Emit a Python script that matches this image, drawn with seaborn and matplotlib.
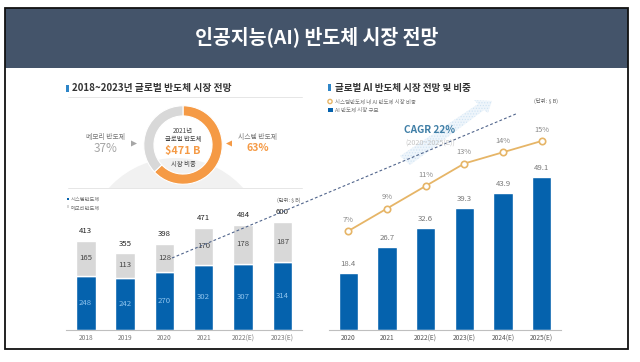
import numpy as np
import pandas as pd
import matplotlib
matplotlib.use("Agg")
import matplotlib.pyplot as plt
from matplotlib.patches import Rectangle, Circle, Polygon
import seaborn as sns

sns.set_theme(style="white")
plt.rcParams['font.family'] = ['Noto Sans CJK KR', 'DejaVu Sans']

title = "인공지능(AI) 반도체 시장 전망"
left_title = "2018~2023년 글로벌 반도체 시장 전망"
right_title = "글로벌 AI 반도체 시장 전망 및 비중"

left_years = ["2018", "2019", "2020", "2021", "2022(E)", "2023(E)"]
system_semi = [248, 242, 270, 302, 307, 314]
memory_semi = [165, 113, 128, 170, 178, 187]
left_total_labels = ["413", "355", "398", "471", "484", "600"]

donut_labels = ["시스템 반도체", "메모리 반도체"]
donut_shares = [63, 37]

right_years = ["2020", "2021", "2022(E)", "2023(E)", "2024(E)", "2025(E)"]
ai_market = [18.4, 26.7, 32.6, 39.3, 43.9, 49.1]
ai_share = [7, 9, 11, 13, 14, 15]

BLUE = "#0562ad"
GREY = "#d8d8d8"
ORANGE = "#f59a45"
TAN = "#e6b567"
W, H = 640, 362

fig = plt.figure(figsize=(W / 100, H / 100), dpi=100, facecolor="white")


def px_axes(x0, y0, x1, y1, **kw):
    return fig.add_axes([x0 / W, 1 - y1 / H, (x1 - x0) / W, (y1 - y0) / H], **kw)


# page layer in pixel coordinates
bg = px_axes(0, 0, W, H, zorder=0)
bg.set_xlim(0, W)
bg.set_ylim(H, 0)
bg.axis("off")
bg.add_patch(Rectangle((5, 7.5), 623, 60, fc="#44546a", ec="none"))
bg.add_patch(Rectangle((5, 7.5), 623, 341.5, fc="none", ec="#111111", lw=1.3))
bg.text(317, 37, title, color="white", fontsize=14, fontweight="bold", ha="center", va="center")

# globe behind the donut
globe = Circle((176, 248), 90, fc="#f1f1f1", ec="none")
bg.add_patch(globe)
globe.set_clip_path(Rectangle((60, 100), 250, 88, transform=bg.transData))
bg.plot([68, 302], [188, 188], color="#e6e6e6", lw=0.7)
bg.plot([68, 302], [97, 97], color="#e6e6e6", lw=0.7)

# section titles
bg.add_patch(Rectangle((66, 85), 2.6, 7, fc="#2f86c8", ec="none"))
bg.text(72, 88.5, left_title, fontsize=7, fontweight="bold", color="#333333", va="center")
bg.add_patch(Rectangle((328, 84), 2.6, 7, fc="#2f86c8", ec="none"))
bg.text(335, 88, right_title, fontsize=6.9, fontweight="bold", color="#333333", va="center")

# donut side labels
bg.text(106, 137, donut_labels[1], fontsize=4.9, color="#777777", ha="center", va="center")
bg.text(106, 148, f"{donut_shares[1]}%", fontsize=8.5, color="#a6a6a6", ha="center", va="center")
bg.add_patch(Polygon([[131, 140.5], [131, 146.5], [137, 143.5]], fc="#a6a6a6", ec="none"))
bg.text(257.5, 137, donut_labels[0], fontsize=4.9, color="#777777", ha="center", va="center")
bg.text(257.5, 148, f"{donut_shares[0]}%", fontsize=7.6, fontweight="bold", color=ORANGE, ha="center", va="center")
bg.add_patch(Polygon([[232, 140.5], [232, 146.5], [226, 143.5]], fc=ORANGE, ec="none"))

# donut
dn = px_axes(141, 103, 225, 187, zorder=1)
dn.pie(donut_shares, colors=[ORANGE, GREY], startangle=90, counterclock=False, radius=1.0,
       wedgeprops=dict(width=0.26, edgecolor="white", linewidth=0.8))
dn.set_xlim(-1.07, 1.07)
dn.set_ylim(-1.07, 1.07)
bg.text(183, 131, "2021년", fontsize=4.6, color="#444444", ha="center", va="center")
bg.text(183, 138.5, "글로벌 반도체", fontsize=4.6, color="#444444", ha="center", va="center")
bg.text(183, 151, "$471 B", fontsize=7.8, fontweight="bold", color=ORANGE, ha="center", va="center")
bg.text(183, 164, "시장 비중", fontsize=4.6, color="#444444", ha="center", va="center")

# stacked bars
ax1 = px_axes(66, 205, 302, 330, zorder=2)
ax1.patch.set_alpha(0)
left_df = pd.DataFrame({"year": left_years, "system": system_semi, "memory": memory_semi})
sns.barplot(data=left_df, x="year", y="system", color=BLUE, saturation=1, width=0.5, ax=ax1)
sns.barplot(data=left_df, x="year", y="memory", bottom=left_df["system"], color=GREY,
            saturation=1, width=0.5, ax=ax1)
ax1.set_ylim(0, 125 / 0.2165)
ax1.set_xlim(-0.5, 5.5)
for i in range(6):
    ax1.text(i, system_semi[i] / 2, str(system_semi[i]), color="#8fc4ee", fontsize=5.6, ha="center", va="center")
    ax1.text(i, system_semi[i] + memory_semi[i] / 2, str(memory_semi[i]), color="#444444", fontsize=5.6,
             ha="center", va="center")
    ax1.text(i, system_semi[i] + memory_semi[i] + 44, left_total_labels[i], color="#222222", fontsize=5.6,
             ha="center", va="center")

# AI bars and share line
ax2 = px_axes(329, 115, 561, 330, zorder=2)
ax2.patch.set_alpha(0)
right_df = pd.DataFrame({"year": right_years, "market": ai_market, "share": ai_share})
sns.barplot(data=right_df, x="year", y="market", color=BLUE, saturation=1, width=0.5, ax=ax2)
ax2.set_ylim(0, 215 / 3.115)
ax2.set_xlim(-0.5, 5.5)
for i, v in enumerate(ai_market):
    ax2.text(i, v + 2.9, f"{v}", color="#777777", fontsize=5.6, ha="center", va="center")

ax3 = ax2.twinx()
ax3.patch.set_alpha(0)
sns.lineplot(x=np.arange(6), y=ai_share, color=TAN, lw=1.3, marker="o", markersize=4.6,
             markerfacecolor="white", markeredgecolor=TAN, markeredgewidth=1.2, ax=ax3)
ax3.set_ylim(-1.8, -1.8 + 215 / 11.25)
ax3.axis("off")
for i, v in enumerate(ai_share):
    ax3.text(i, v + 1.0, f"{v}%", color="#888888", fontsize=5.4, ha="center", va="center")

for ax in (ax1, ax2):
    sns.despine(ax=ax, left=True)
    ax.spines["bottom"].set_color("#bfbfbf")
    ax.spines["bottom"].set_linewidth(0.8)
    ax.set_yticks([])
    ax.set_xlabel("")
    ax.set_ylabel("")
    ax.tick_params(axis="x", length=0, pad=3, labelsize=4.8, labelcolor="#777777")
ax2.tick_params(axis="x", labelcolor="#555555")

# left legend and unit
bg.add_patch(Rectangle((66.5, 197.5), 2.6, 2.6, fc=BLUE, ec="none"))
bg.text(71, 199, "시스템반도체", fontsize=3.8, color="#777777", va="center")
bg.add_patch(Rectangle((66.5, 205), 2.6, 2.6, fc=GREY, ec="none"))
bg.text(71, 208, "메모리반도체", fontsize=3.8, color="#777777", va="center")
bg.text(289, 200, "(단위: $ B)", fontsize=3.8, color="#555555", ha="center", va="center")

# right legend and unit
bg.add_patch(Circle((330, 101.5), 2.1, fc="white", ec=TAN, lw=1))
bg.text(335, 101.5, "시스템반도체 내 AI 반도체 시장 비중", fontsize=3.9, color="#777777", va="center")
bg.add_patch(Rectangle((328, 107.5), 4.5, 4.5, fc=BLUE, ec="none"))
bg.text(335, 109.5, "AI 반도체 시장 규모", fontsize=3.9, color="#777777", va="center")
bg.text(546, 101, "(단위: $ B)", fontsize=3.9, color="#555555", ha="center", va="center")

# CAGR block and overlay
over = px_axes(0, 0, W, H, zorder=4)
over.set_xlim(0, W)
over.set_ylim(H, 0)
over.axis("off")
over.patch.set_alpha(0)
plt.rcParams['hatch.linewidth'] = 0.5
over.add_patch(Polygon([[400, 156], [478, 104], [474, 100], [492, 101], [488, 113], [484, 110], [410, 165]],
                       fc="#eef5fb", ec="#cfe3f3", hatch="......", lw=0))
over.text(430, 130, "CAGR 22%", fontsize=7.3, fontweight="bold", color="#3f7ea6", ha="center", va="center")
over.text(430, 143.5, "(2020~2025(E))", fontsize=5.2, color="#c4c4c4", ha="center", va="center")
over.plot([172, 517], [258, 113.5], color="#51658c", lw=0.8, ls=(0, (2.5, 2)))

fig.savefig("out.png", dpi=100, facecolor="white")
